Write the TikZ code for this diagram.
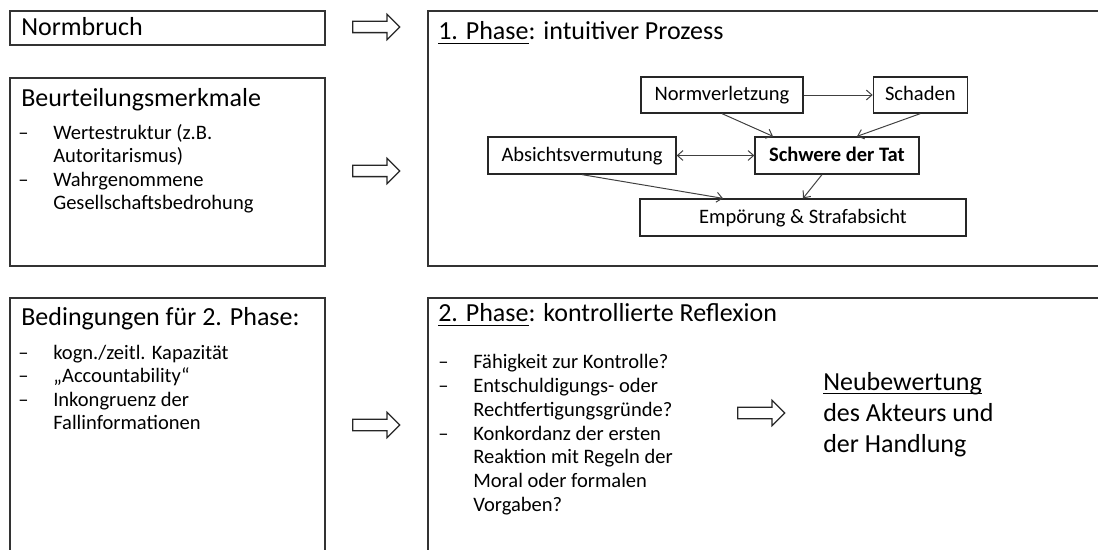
\documentclass[tikz,border=0pt]{standalone}
\usepackage{fontspec}
\setmainfont{Carlito}
\usetikzlibrary{shapes.arrows, arrows.meta, calc, positioning}

\newcommand{\dashitem}{\makebox[24.9pt][l]{–}}
\newcommand{\dashindent}{\hspace*{24.9pt}}
\newcommand{\ulinetext}[1]{\setbox0\hbox{#1}\rlap{\rule[-2.7pt]{\wd0}{0.9pt}}\box0}

\begin{document}
\begin{tikzpicture}[x=0.025cm, y=-0.025cm, >={Straight Barb[length=4pt,width=7pt]}]
	\tikzstyle{bigbox} = [draw=black!80, line width=1.3pt, anchor=north west, inner sep=0pt]
	\tikzstyle{smallbox} = [draw=black!85, line width=0.9pt, inner sep=0pt, text height=11pt, text depth=3pt, font=\fontsize{14.6}{17}\selectfont]
	\tikzstyle{headline} = [anchor=base west, inner sep=0pt, font=\fontsize{18.5}{22}\selectfont]
	\tikzstyle{itemlist} = [anchor=north west, inner sep=0pt, align=left, font=\fontsize{14.6}{16.7}\selectfont]
	\tikzstyle{hollow} = [single arrow, draw=black!85, line width=0.9pt, anchor=tail, minimum height=1.175cm, inner xsep=0pt, inner ysep=0.125cm, single arrow head extend=0.175cm]
	\tikzstyle{link} = [draw=black!75, line width=0.7pt]

	\useasboundingbox (0,0) rectangle (1098,550);
	\clip (0,0) rectangle (1098,550);

	% left column
	\node[bigbox, minimum width=7.875cm, minimum height=0.85cm] (normbox) at (9,10) {};
	\node[bigbox, minimum width=7.875cm, minimum height=4.7cm] (merkmalbox) at (9,77) {};
	\node[bigbox, minimum width=7.875cm, minimum height=7cm] (bedingbox) at (9,297) {};

	\node[headline] (normbruch) at ($(normbox.north west)+(12,26)$) {Normbruch};
	\node[headline] (merkmale) at ($(merkmalbox.north west)+(12,30)$) {Beurteilungsmerkmale};
	\node[itemlist] (merkmalliste) at (18,122.6) {\strut\dashitem Wertestruktur (z.B.\\
		\dashindent Autoritarismus)\\
		\dashitem Wahrgenommene\\
		\dashindent Gesellschaftsbedrohung};
	\node[headline] (bedingungen) at ($(bedingbox.north west)+(12,29)$) {Bedingungen für 2. Phase:};
	\node[itemlist] (bedingliste) at (18,342.6) {\strut\dashitem kogn./zeitl. Kapazität\\
		\dashitem „Accountability“\\
		\dashitem Inkongruenz der\\
		\dashindent Fallinformationen};

	% hollow arrows
	\node[hollow] (pfeil1) at (352,27) {};
	\node[hollow] (pfeil2) at (352,171) {};
	\node[hollow] (pfeil3) at (352,425) {};

	% phase 1
	\node[bigbox, minimum width=17.2cm, minimum height=6.375cm] (phase1box) at (427,10) {};
	\node[headline] (phase1) at ($(phase1box.north west)+(11,30)$) {\ulinetext{1. Phase}: intuitiver Prozess};

	\node[smallbox, minimum width=4.05cm, minimum height=0.9cm] (norm) at (722,95) {Normverletzung};
	\node[smallbox, minimum width=2.35cm, minimum height=0.9cm, right=1.725cm of norm] (schaden) {Schaden};
	\node[smallbox, minimum width=4.7cm, minimum height=0.925cm] (absicht) at (582,155.5) {Absichtsvermutung};
	\node[smallbox, minimum width=4.1cm, minimum height=0.925cm] (schwere) at (837,155.5) {\bfseries Schwere der Tat};
	\node[smallbox, minimum width=8.15cm, minimum height=0.925cm] (empoerung) at (803,217.5) {Empörung \& Strafabsicht};

	\draw[link, ->] (norm) -- (schaden);
	\draw[link, ->] (norm.south) -- ($(schwere.north)+(-64,0)$);
	\draw[link, ->] (schaden.south) -- ($(schwere.north)+(20,0)$);
	\draw[link, <->] (absicht) -- (schwere);
	\draw[link, ->] (absicht.south) -- ($(empoerung.north)+(-80,0)$);
	\draw[link, ->] ($(schwere.south)+(-15,0)$) -- (empoerung.north);

	% phase 2
	\node[bigbox, minimum width=17.2cm, minimum height=7cm] (phase2box) at (427,297) {};
	\node[headline] (phase2) at ($(phase2box.north west)+(11,25)$) {\ulinetext{2. Phase}: kontrollierte Reflexion};
	\node[itemlist, font=\fontsize{14.6}{17}\selectfont] (reflexliste) at (438,351.3) {\strut\dashitem Fähigkeit zur Kontrolle?\\
		\dashitem Entschuldigungs- oder\\
		\dashindent Rechtfertigungsgründe?\\
		\dashitem Konkordanz der ersten\\
		\dashindent Reaktion mit Regeln der\\
		\dashindent Moral oder formalen\\
		\dashindent Vorgaben?};

	\node[hollow] (pfeil4) at (737,413) {};
	\node[itemlist, font=\fontsize{18.5}{22}\selectfont] (neubewertung) at (823,368.3) {\strut\ulinetext{Neubewertung}\\
		des Akteurs und\\
		der Handlung};
\end{tikzpicture}
\end{document}
